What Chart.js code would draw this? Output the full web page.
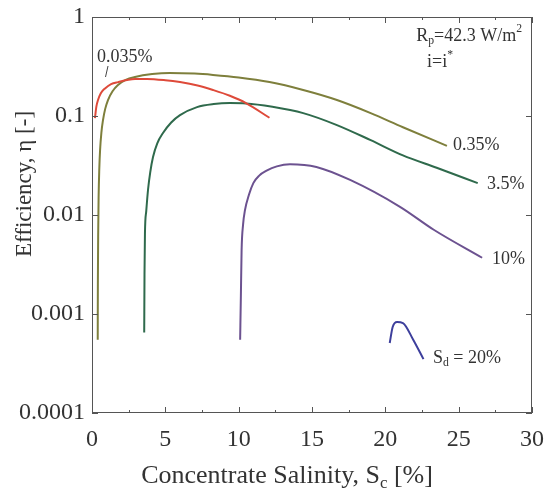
<!DOCTYPE html>
<html>
<head>
<meta charset="utf-8">
<script src="https://cdn.jsdelivr.net/npm/chart.js@4/dist/chart.umd.min.js"></script>
<style>
  html, body { margin: 0; padding: 0; background: #fff; }
  #wrap { width: 552px; height: 495px; }
</style>
</head>
<body>
<div id="wrap"><canvas id="c" width="552" height="495"></canvas></div>
<script>
// Efficiency vs concentrate salinity for several diluate salinities (log scale)
const sd0035X = [0.2, 0.3, 0.41, 0.6, 0.89, 1.3, 1.77, 2.93, 3.75, 5, 6, 7.2, 8.25, 9.4, 10.5, 12.1];
const sd0035Y = [0.095, 0.125, 0.145, 0.17, 0.19, 0.21, 0.22, 0.236, 0.237, 0.23, 0.22, 0.203, 0.183, 0.16, 0.135, 0.096];

const sd035X = [0.39, 0.40, 0.42, 0.45, 0.5, 0.55, 0.64, 0.75, 0.9, 1.09, 1.4, 1.77, 2.3, 2.93, 4.1, 5.3, 7, 8.25, 10, 12.1, 14.4, 16.7, 19, 21.2, 24.2];
const sd035Y = [0.00055, 0.002, 0.006, 0.015, 0.03, 0.045, 0.068, 0.091, 0.118, 0.145, 0.178, 0.206, 0.232, 0.248, 0.265, 0.272, 0.268, 0.26, 0.245, 0.22, 0.183, 0.145, 0.107, 0.077, 0.05];

const sd35X = [3.56, 3.58, 3.61, 3.7, 3.82, 3.97, 4.16, 4.45, 4.84, 5.4, 6.0, 7.16, 8.3, 9.4, 10.5, 12.3, 14.4, 16.7, 19, 21.2, 23.5, 26.3];
const sd35Y = [0.00065, 0.0025, 0.0065, 0.011, 0.018, 0.027, 0.0385, 0.053, 0.0673, 0.086, 0.102, 0.123, 0.132, 0.135, 0.134, 0.124, 0.107, 0.081, 0.057, 0.040, 0.030, 0.021];

const sd10X = [10.1, 10.15, 10.2, 10.3, 10.43, 10.7, 11, 11.4, 11.9, 12.6, 13.5, 15.3, 17.6, 21, 23.3, 26.6];
const sd10Y = [0.00055, 0.0015, 0.0044, 0.008, 0.0112, 0.016, 0.021, 0.025, 0.028, 0.031, 0.0326, 0.0306, 0.0226, 0.0121, 0.0071, 0.0037];

const sd20X = [20.3, 20.5, 20.8, 21.2, 21.9, 22.6];
const sd20Y = [0.00051, 0.00074, 0.00083, 0.00081, 0.00055, 0.00035];

const xTicks = [0, 5, 10, 15, 20, 25, 30];
const yTicks = [0.0001, 0.001, 0.01, 0.1, 1];
const yTickLabels = ['0.0001', '0.001', '0.01', '0.1', '1'];

const SERIF = '"Liberation Serif", "DejaVu Serif", serif';
const TEXT = '#333';

function pts(xs, ys) { return xs.map((x, i) => ({ x: x, y: ys[i] })); }

function line(label, xs, ys, color) {
  return {
    label: label,
    data: pts(xs, ys),
    borderColor: color,
    borderWidth: 2,
    pointRadius: 0,
    fill: false,
    cubicInterpolationMode: 'monotone'
  };
}

// Text with optional subscript / superscript runs
function richText(ctx, parts, x, y, size, align) {
  let total = 0;
  parts.forEach(p => {
    ctx.font = (p.sub || p.sup ? size * 0.65 : size) + 'px ' + SERIF;
    p.w = ctx.measureText(p.t).width;
    total += p.w;
  });
  let cx = align === 'center' ? x - total / 2 : (align === 'right' ? x - total : x);
  parts.forEach(p => {
    const s = p.sub || p.sup ? size * 0.65 : size;
    ctx.font = s + 'px ' + SERIF;
    const dy = p.sub ? size * 0.3 : (p.sup ? -size * 0.38 : 0);
    ctx.textAlign = 'left';
    ctx.fillText(p.t, cx, y + dy);
    cx += p.w;
  });
}

const decor = {
  id: 'decor',
  afterDraw(chart) {
    const ctx = chart.ctx;
    const a = chart.chartArea;
    const xs = chart.scales.x, ys = chart.scales.y;
    ctx.save();
    // frame
    ctx.strokeStyle = '#555';
    ctx.lineWidth = 1;
    ctx.strokeRect(a.left + 0.5, a.top + 0.5, a.right - a.left - 1, a.bottom - a.top - 1);
    // inward ticks on x (major every 5, minor every 2.5)
    ctx.beginPath();
    for (let v = 0; v <= 30; v += 2.5) {
      const px = Math.round(xs.getPixelForValue(v)) + 0.5;
      const len = (v % 5 === 0) ? 6 : 3;
      ctx.moveTo(px, a.bottom); ctx.lineTo(px, a.bottom - len);
      ctx.moveTo(px, a.top); ctx.lineTo(px, a.top + len);
    }
    // inward ticks on y at decades
    yTicks.forEach(v => {
      const py = Math.round(ys.getPixelForValue(v)) + 0.5;
      ctx.moveTo(a.left, py); ctx.lineTo(a.left + 6, py);
      ctx.moveTo(a.right, py); ctx.lineTo(a.right - 6, py);
    });
    ctx.stroke();

    ctx.fillStyle = TEXT;
    ctx.textBaseline = 'middle';
    // series labels
    const f = 18;
    richText(ctx, [{ t: '0.035%' }], 97, 57, f, 'left');
    richText(ctx, [{ t: '0.35%' }], 453, 145, f, 'left');
    richText(ctx, [{ t: '3.5%' }], 487, 184, f, 'left');
    richText(ctx, [{ t: '10%' }], 492, 259, f, 'left');
    richText(ctx, [{ t: 'S' }, { t: 'd', sub: true }, { t: ' = 20%' }], 433, 358, f, 'left');
    richText(ctx, [{ t: 'R' }, { t: 'p', sub: true }, { t: '=42.3 W/m' }, { t: '2', sup: true }], 522, 36, f, 'right');
    richText(ctx, [{ t: 'i=i' }, { t: '*', sup: true }], 427, 62, f, 'left');
    // leader for the 0.035% label
    ctx.strokeStyle = '#444';
    ctx.lineWidth = 1;
    ctx.beginPath();
    ctx.moveTo(108, 66); ctx.lineTo(105.5, 77);
    ctx.stroke();

    // axis titles
    ctx.fillStyle = TEXT;
    richText(ctx, [{ t: 'Concentrate Salinity, S' }, { t: 'c', sub: true }, { t: ' [%]' }], 287, 476, 26, 'center');
    ctx.translate(25, 184);
    ctx.rotate(-Math.PI / 2);
    richText(ctx, [{ t: 'Efficiency, \u03B7 [-]' }], 0, 0, 23, 'center');
    ctx.restore();
  }
};

new Chart(document.getElementById('c'), {
  type: 'line',
  data: {
    datasets: [
      line('0.035%', sd0035X, sd0035Y, '#de4a3a'),
      line('0.35%', sd035X, sd035Y, '#7e7f3c'),
      line('3.5%', sd35X, sd35Y, '#2f6a4c'),
      line('10%', sd10X, sd10Y, '#6c5290'),
      line('20%', sd20X, sd20Y, '#3d3f9c')
    ]
  },
  options: {
    responsive: false,
    animation: false,
    layout: { padding: { top: 17, right: 20, left: 0, bottom: 0 } },
    plugins: { legend: { display: false }, tooltip: { enabled: false } },
    scales: {
      x: {
        type: 'linear',
        min: 0, max: 30,
        afterBuildTicks(s) { s.ticks = xTicks.map(v => ({ value: v })); },
        afterFit(s) { s.height = 82; s.paddingLeft = 0; s.paddingRight = 0; },
        grid: { display: false, drawTicks: false },
        border: { display: false },
        ticks: { color: TEXT, font: { family: SERIF, size: 24 }, padding: 12, maxRotation: 0 }
      },
      y: {
        type: 'logarithmic',
        min: 0.0001, max: 1,
        afterBuildTicks(s) { s.ticks = yTicks.map(v => ({ value: v })); },
        afterFit(s) { s.width = 92; s.paddingTop = 0; s.paddingBottom = 0; },
        grid: { display: false, drawTicks: false },
        border: { display: false },
        ticks: {
          color: TEXT, font: { family: SERIF, size: 24 }, padding: 7,
          callback(v) { const i = yTicks.indexOf(v); return i >= 0 ? yTickLabels[i] : ''; }
        }
      }
    }
  },
  plugins: [decor]
});
</script>
</body>
</html>
